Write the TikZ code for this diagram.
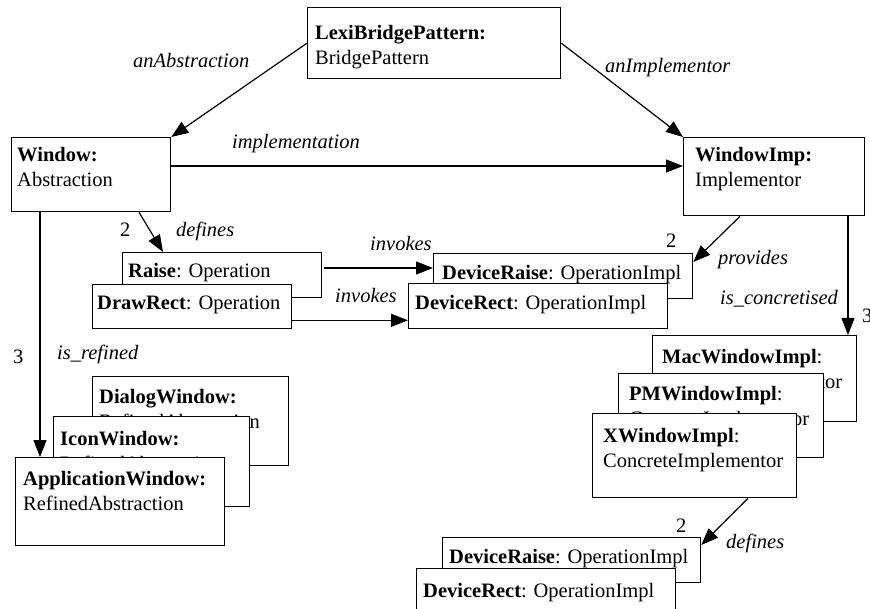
\documentclass[tikz,border=0pt]{standalone}
\usepackage{fontspec}
\setmainfont{Liberation Serif}
\usetikzlibrary{arrows.meta}
\frenchspacing
\tikzset{
  box/.style={draw, line width=1.3pt, fill=white, inner sep=0pt, anchor=north west},
  lbl/.style={inner sep=0pt, align=left, anchor=base west, text width=#1,
    font=\fontsize{20.5pt}{25pt}\selectfont\frenchspacing},
  elbl/.style={inner sep=0pt, anchor=base west, font=\fontsize{20.5pt}{25pt}\selectfont\itshape},
  num/.style={inner sep=0pt, anchor=base west, font=\fontsize{20.5pt}{25pt}\selectfont},
  arr/.style={line width=1.2pt, -{Triangle[length=17pt,width=13pt]}}
}
\begin{document}
\begin{tikzpicture}[x=1pt,y=-1pt]
\useasboundingbox (0,0) rectangle (870,609);
\clip (0,0) rectangle (870,609);
% top
\node[box, minimum width=253pt, minimum height=71pt] (lexi) at (307,7) {};
\node[lbl=240pt] (lexiT) at (315,40) {\textbf{LexiBridgePattern:}\\BridgePattern};
\node[box, minimum width=159pt, minimum height=74pt] (window) at (11,137) {};
\node[lbl=150pt] (windowT) at (17,162) {\textbf{Window:}\\Abstraction};
\node[box, minimum width=181pt, minimum height=78pt] (windowimp) at (683,137) {};
\node[lbl=165pt] (windowimpT) at (695,162) {\textbf{WindowImp:}\\Implementor};
% operations
\node[box, minimum width=199pt, minimum height=45pt] (raise) at (122,252) {};
\node[lbl=190pt] (raiseT) at (128,278) {\textbf{Raise}: Operation};
\node[box, minimum width=199pt, minimum height=44pt] (drawrect) at (92,284) {};
\node[lbl=190pt] (drawrectT) at (97,310) {\textbf{DrawRect}: Operation};
\node[box, minimum width=259pt, minimum height=45pt] (devraise) at (433,253) {};
\node[lbl=250pt] (devraiseT) at (442,280) {\textbf{DeviceRaise}: OperationImpl};
\node[box, minimum width=259pt, minimum height=45pt] (devrect) at (408,283) {};
\node[lbl=250pt] (devrectT) at (415,310) {\textbf{DeviceRect}: OperationImpl};
% concrete implementors
\node[box, minimum width=204pt, minimum height=86pt] (mac) at (652,335) {};
\node[lbl=200pt] (macT) at (662,363) {\textbf{MacWindowImpl}:\\ConcreteImplementor};
\node[box, minimum width=205pt, minimum height=84pt] (pm) at (618,373) {};
\node[lbl=200pt] (pmT) at (629,400) {\textbf{PMWindowImpl}:\\ConcreteImplementor};
\node[box, minimum width=204pt, minimum height=84pt] (xw) at (592,413) {};
\node[lbl=200pt] (xwT) at (603,442) {\textbf{XWindowImpl}:\\ConcreteImplementor};
\node[box, minimum width=258pt, minimum height=45pt] (devraise2) at (442,537) {};
\node[lbl=250pt] (devraise2T) at (449,563) {\textbf{DeviceRaise}: OperationImpl};
\node[box, minimum width=259pt, minimum height=60pt] (devrect2) at (416,568) {};
\node[lbl=250pt] (devrect2T) at (423,597) {\textbf{DeviceRect}: OperationImpl};
% refined abstractions
\node[box, minimum width=196pt, minimum height=89pt] (dialog) at (92,376) {};
\node[lbl=190pt] (dialogT) at (99,403) {\textbf{DialogWindow:}\\RefinedAbstraction};
\node[box, minimum width=196pt, minimum height=90pt] (icon) at (53,416) {};
\node[lbl=190pt] (iconT) at (60,445) {\textbf{IconWindow:}\\RefinedAbstraction};
\node[box, minimum width=209pt, minimum height=88pt] (app) at (15,457) {};
\node[lbl=200pt] (appT) at (23,485) {\textbf{ApplicationWindow:}\\RefinedAbstraction};
% connectors
\draw[arr] (lexi.west) -- (window.north east);
\draw[arr] (lexi.east) -- (windowimp.north west);
\draw[arr] ([yshift=-29pt]window.north east) -- ([yshift=-29pt]windowimp.north west);
\draw[arr] ([xshift=128pt]window.south west) -- ([xshift=41pt]raise.north west);
\draw[arr] ([yshift=-16pt,xshift=2pt]raise.north east) -- ([yshift=-15pt]devraise.north west);
\draw[arr] ([yshift=9pt]drawrect.south east) -- ([yshift=9pt]devrect.south west);
\draw[arr] ([xshift=57pt]windowimp.south west) -- ([yshift=-9pt]devraise.north east);
\draw[arr] ([xshift=165pt]windowimp.south west) -- ([xshift=196pt]mac.north west);
\draw[arr] ([xshift=156pt]xw.south west) -- ([yshift=-8pt]devraise2.north east);
\draw[arr] ([xshift=29pt]window.south west) -- ([xshift=25pt]app.north west);
% connector labels
\node[elbl] (l1) at (133,68) {anAbstraction};
\node[elbl] (l2) at (605,73) {anImplementor};
\node[elbl] (l3) at (232,149) {implementation};
\node[num] (n1) at (120,237) {2};
\node[elbl] (l4) at (176,237) {defines};
\node[elbl] (l5) at (370,251) {invokes};
\node[elbl] (l6) at (335,303) {invokes};
\node[num] (n2) at (666,248) {2};
\node[elbl] (l7) at (718,265) {provides};
\node[elbl] (l8) at (720,305) {is\_concretised};
\node[num] (n3) at (862,323) {3};
\node[elbl] (l9) at (57,360) {is\_refined};
\node[num] (n4) at (13,363) {3};
\node[num] (n5) at (676,532) {2};
\node[elbl] (l10) at (726,548) {defines};
\end{tikzpicture}
\end{document}
